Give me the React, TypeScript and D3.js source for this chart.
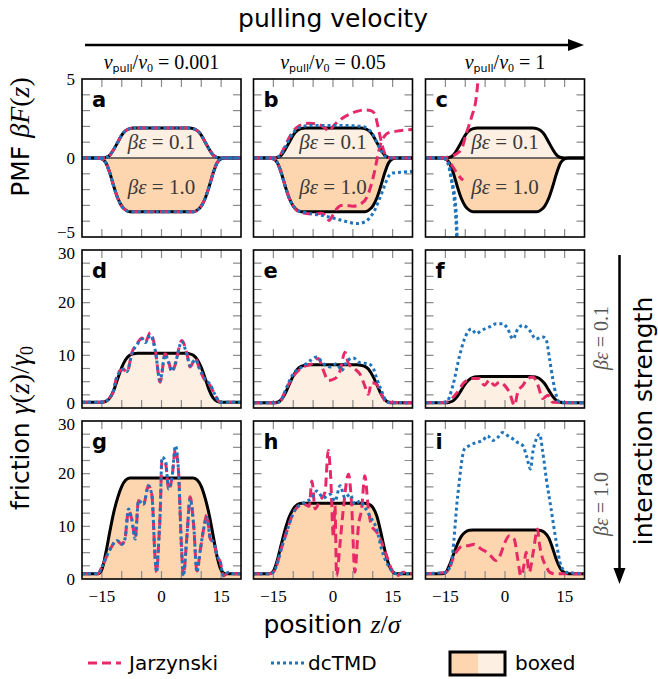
import React from "react";
import * as d3 from "d3";

type Pt = [number, number];

// ---- reference ("boxed") curves ----
const pmfBoxed01: Pt[] = [[-20,0],[-15,0],[-14,0.03],[-13,0.18],[-12,0.55],[-11,1.0],[-10,1.45],[-9,1.73],[-8,1.86],[-7,1.9],[7,1.9],[8,1.86],[9,1.73],[10,1.45],[11,1.0],[12,0.55],[13,0.18],[14,0.03],[15,0],[20,0]];
const pmfBoxed10: Pt[] = [[-20,0],[-16,0],[-15,-0.05],[-14,-0.3],[-13,-0.95],[-12,-1.8],[-11,-2.55],[-10,-3.05],[-9,-3.3],[-8,-3.4],[8,-3.4],[9,-3.3],[10,-3.05],[11,-2.55],[12,-1.8],[13,-0.95],[14,-0.3],[15,-0.05],[16,0],[20,0]];

const fricBoxedD: Pt[] = [[-20,1.1],[-15,1.1],[-14,1.25],[-13,1.9],[-12,3.4],[-11,5.6],[-10,7.7],[-9,9.2],[-8,10.0],[-7,10.3],[-6,10.4],[6,10.4],[7,10.3],[8,10.0],[9,9.2],[10,7.7],[11,5.6],[12,3.4],[13,1.9],[14,1.25],[15,1.1],[20,1.1]];
const fricBoxedE: Pt[] = [[-20,1.0],[-15,1.0],[-14,1.1],[-13,1.6],[-12,2.8],[-11,4.5],[-10,6.1],[-9,7.3],[-8,7.9],[-7,8.1],[-6,8.2],[6,8.2],[7,8.1],[8,7.9],[9,7.3],[10,6.1],[11,4.5],[12,2.8],[13,1.6],[14,1.1],[15,1.0],[20,1.0]];
const fricBoxedF: Pt[] = [[-20,1.0],[-15,1.0],[-14,1.1],[-13,1.4],[-12,2.2],[-11,3.4],[-10,4.6],[-9,5.4],[-8,5.8],[-7,5.95],[-6,6.0],[6,6.0],[7,5.95],[8,5.8],[9,5.4],[10,4.6],[11,3.4],[12,2.2],[13,1.4],[14,1.1],[15,1.0],[20,1.0]];
const fricBoxedG: Pt[] = [[-20,1.0],[-16,1.0],[-15,1.8],[-14,5.0],[-13,9.0],[-12,12.7],[-11,15.5],[-10,17.6],[-9,18.8],[-8,19.2],[8,19.2],[9,18.8],[10,17.6],[11,15.3],[12,12.2],[13,8.2],[14,4.2],[15,1.7],[16,1.0],[20,1.0]];
const fricBoxedH: Pt[] = [[-20,1.0],[-16,1.0],[-15,1.5],[-14,3.6],[-13,6.6],[-12,9.5],[-11,11.8],[-10,13.3],[-9,14.1],[-8,14.4],[8,14.4],[9,14.2],[10,13.6],[11,12.0],[12,9.0],[13,5.6],[14,2.8],[15,1.4],[16,1.0],[20,1.0]];
const fricBoxedI: Pt[] = [[-20,1.0],[-16,1.0],[-15,1.2],[-14,2.6],[-13,4.6],[-12,6.6],[-11,8.1],[-10,8.9],[-9,9.25],[-8,9.3],[8,9.3],[9,9.2],[10,8.8],[11,7.8],[12,5.8],[13,3.5],[14,1.9],[15,1.2],[16,1.0],[20,1.0]];

// ---- PMF estimates ----
const bJarz01: Pt[] = [[-20,0],[-15,0],[-14,0.05],[-13,0.3],[-12,0.8],[-11,1.3],[-10,1.7],[-9,1.95],[-8,2.1],[-6,2.2],[-4,2.15],[-2,1.9],[-1,1.7],[0,2.0],[2,2.45],[4,2.75],[6,2.95],[8,3.05],[9.5,3.0],[10.5,2.8],[11.3,2.0],[12,1.2],[12.7,0.5],[13.5,0.05],[15,0],[20,0]];
const bJarz10: Pt[] = [[-20,0],[-16,0],[-15,-0.05],[-14,-0.3],[-13,-0.95],[-12,-1.8],[-11,-2.55],[-10,-3.05],[-9,-3.35],[-7,-3.5],[-5,-3.55],[-3,-3.5],[-2,-3.6],[-1,-3.95],[0,-3.6],[1,-3.2],[2,-3.0],[3,-3.0],[5,-3.05],[7,-2.9],[8.5,-2.5],[9.5,-1.8],[10.5,-0.8],[11.3,0.2],[12,0.9],[13,1.4],[14,1.6],[16,1.7],[20,1.8]];
const bDctmd01: Pt[] = [[-20,0],[-15,0],[-14,0.05],[-13,0.25],[-12,0.7],[-11,1.2],[-10,1.6],[-9,1.85],[-8,1.98],[-6,2.05],[0,2.05],[4,2.05],[7,2.0],[8,1.95],[9,1.8],[10,1.5],[11,1.0],[12,0.5],[13,0.15],[14,0.02],[15,0],[20,0]];
const bDctmd10: Pt[] = [[-20,0],[-16,0],[-15,-0.05],[-14,-0.3],[-13,-0.95],[-12,-1.8],[-11,-2.55],[-10,-3.05],[-9,-3.3],[-7,-3.45],[-5,-3.55],[-3,-3.63],[0,-3.8],[3,-4.0],[6,-4.15],[8,-4.05],[9.5,-3.7],[10.6,-3.25],[11.5,-2.7],[12.3,-2.2],[13.2,-1.6],[14,-1.15],[15,-0.95],[17,-0.9],[20,-0.85]];

const cJarz01: Pt[] = [[-20,0],[-15,0],[-14.5,0.05],[-13,0.15],[-12,0.3],[-11,0.53],[-9.7,1.58],[-8.4,2.6],[-7.2,3.9],[-6.8,4.95],[-6.5,6.2]];
const cJarz10: Pt[] = [[-20,0],[-16,0],[-15,-0.05],[-14,-0.25],[-13,-0.6],[-12,-1.0],[-11,-1.3],[-10.5,-1.4]];
const cDctmd01: Pt[] = [[-20,0],[-16,0],[-15,-0.05],[-14.5,-0.15],[-14,-0.5],[-13.5,-1.2],[-13,-1.9],[-12.6,-2.5],[-12.3,-3.4],[-12.1,-4.5],[-12,-5.5],[-11.9,-7]];
const cDctmd10: Pt[] = [[-20,0],[-16,0],[-15,-0.08],[-14.5,-0.25],[-14,-0.7],[-13.5,-1.4],[-13,-2.1],[-12.7,-2.8],[-12.4,-3.7],[-12.2,-4.7],[-12.1,-5.5],[-12,-7]];

// ---- friction estimates ----
const dJarz: Pt[] = [[-20,1.1],[-15,1.1],[-14,1.3],[-13,2.0],[-12,3.4],[-11.6,4.9],[-10.4,7.1],[-9.5,7.3],[-8.7,6.8],[-7.4,10.6],[-6,12.4],[-4.9,13.3],[-4.1,12.5],[-2.8,14.3],[-1.6,11.3],[-0.35,4.9],[0.9,10.3],[1.8,8.8],[2.6,6.8],[3.4,8.1],[5.1,12.8],[6.4,10.3],[7.2,7.8],[8.5,9.4],[9.7,7.1],[11,5.2],[12.2,4.3],[13.5,2.4],[14.8,1.1],[20,1.1]];
const dDctmd: Pt[] = [[-20,1.1],[-15,1.1],[-14,1.3],[-13,2.0],[-12,3.4],[-11.6,4.9],[-10.4,7.0],[-9.5,7.4],[-8.7,6.9],[-7.4,10.4],[-6,12.2],[-4.9,13.1],[-4.1,12.4],[-2.8,13.8],[-1.6,11.0],[-0.35,5.2],[0.9,10.1],[1.8,8.6],[2.6,7.0],[3.4,8.3],[5.1,12.6],[6.4,10.1],[7.2,8.0],[8.5,9.2],[9.7,7.3],[11,5.4],[12.2,4.5],[13.5,2.5],[14.8,1.1],[20,1.1]];

const eJarz: Pt[] = [[-20,1.0],[-14,1.0],[-13,1.5],[-12.5,2.4],[-9.5,6.5],[-7.4,7.8],[-5.3,8.4],[-3.7,9.4],[-2.4,7.1],[-1.2,5.2],[0.5,5.6],[1.8,7.1],[3.0,10.6],[3.9,8.4],[5.5,7.4],[6.8,6.4],[8.0,4.2],[8.9,2.6],[9.7,4.8],[11.0,4.5],[12.2,2.6],[13.5,1.1],[20,1.0]];
const eDctmd: Pt[] = [[-20,1.0],[-14,1.0],[-13,1.5],[-12.5,2.4],[-9.9,6.6],[-7.8,7.8],[-5.7,9.0],[-4.1,9.7],[-2.4,8.4],[-0.7,7.8],[0.9,8.4],[2.2,7.1],[3.4,8.7],[5.1,9.5],[6.8,8.6],[8.9,8.4],[10.2,7.4],[11.0,5.6],[12.2,3.3],[13.5,1.2],[14.5,1.0],[20,1.0]];

const fJarz: Pt[] = [[-20,1.0],[-14.8,1.1],[-12.3,2.7],[-10.2,4.9],[-8.1,5.6],[-6.4,5.6],[-5.2,4.3],[-3.9,5.3],[-2.7,4.3],[-1.4,4.9],[0,4.2],[1.1,3.0],[2.4,0.5],[3.2,3.0],[4.5,4.3],[5.7,5.6],[7.0,5.9],[8.3,4.3],[9.5,1.8],[10.8,2.4],[12.0,1.1],[20,1.0]];
const fDctmd: Pt[] = [[-20,1.0],[-14.8,1.1],[-13.1,4.3],[-11.4,10.0],[-10.2,13.1],[-8.5,15.0],[-7.2,14.1],[-6.0,14.7],[-3.9,15.4],[-2.2,16.0],[-0.5,16.0],[0.7,15.0],[2.0,13.1],[3.2,15.0],[4.5,15.7],[6.2,14.7],[7.8,13.1],[9.5,13.5],[10.3,13.1],[11.2,9.4],[12.0,5.6],[12.9,2.4],[13.7,1.1],[20,1.0]];

const gJarz: Pt[] = [[-20,1.0],[-16,1.0],[-15,2.3],[-12.9,5.7],[-11.2,7.3],[-10.0,6.6],[-9.2,7.6],[-8.3,13.0],[-7.5,11.4],[-6.6,7.8],[-5.8,14.9],[-4.5,14.2],[-3.3,17.7],[-2.4,15.8],[-1.6,3.8],[-1.2,1.3],[-0.8,5.7],[-0.3,13.3],[0.1,22.5],[1.0,22.0],[1.8,17.1],[2.6,19.0],[3.5,24.5],[4.3,20.2],[4.9,8.2],[5.5,0.8],[6.4,8.2],[7.2,15.6],[8.1,10.1],[8.9,1.5],[9.8,5.7],[10.6,9.5],[11.4,12.2],[12.3,7.6],[13.1,7.0],[14.0,4.4],[14.8,3.2],[15.6,0.6],[16.9,1.3],[18.1,1.0],[20,1.0]];
const gDctmd: Pt[] = [[-20,1.0],[-16,1.0],[-15,2.3],[-12.9,5.7],[-11.2,7.3],[-10.0,6.6],[-9.2,7.6],[-8.3,13.3],[-7.5,11.4],[-6.6,7.6],[-5.8,14.9],[-4.5,14.2],[-3.3,17.7],[-2.4,15.8],[-1.6,3.8],[-1.2,1.3],[-0.8,5.7],[-0.3,13.3],[0.1,23.1],[1.0,22.5],[1.8,17.1],[2.6,19.0],[3.5,25.3],[4.3,20.2],[4.9,8.2],[5.5,0.6],[6.4,8.2],[7.2,15.2],[8.1,10.1],[8.9,1.3],[9.8,5.7],[10.6,9.5],[11.4,11.7],[12.3,7.6],[13.1,7.0],[14.0,4.4],[14.8,3.2],[15.6,0.6],[16.9,1.3],[18.1,1.0],[20,1.0]];

const hJarz: Pt[] = [[-20,1.0],[-16,1.0],[-15,1.3],[-12.5,7.0],[-9.4,13.3],[-7.3,14.2],[-6.0,13.8],[-5.3,18.6],[-4.5,13.3],[-3.3,14.9],[-2.0,16.5],[-1.2,24.4],[-0.6,19.6],[0.1,8.0],[0.5,13.9],[0.9,0.6],[1.8,7.0],[2.6,13.3],[3.9,19.9],[4.7,13.9],[5.5,1.3],[6.4,10.1],[7.2,13.3],[8.0,19.6],[8.9,13.3],[9.7,10.1],[11.0,8.9],[12.2,7.0],[13.5,4.4],[14.7,1.9],[16.0,0.6],[17.7,1.3],[20,1.0]];
const hDctmd: Pt[] = [[-20,1.0],[-16,1.0],[-15,1.3],[-12.5,7.0],[-9.4,13.3],[-7.3,14.5],[-5.3,15.4],[-4.1,16.7],[-2.4,15.4],[-0.7,16.1],[0.5,14.8],[1.8,17.7],[3.0,15.4],[4.3,16.1],[5.5,14.2],[6.8,14.8],[8.0,13.6],[9.7,11.4],[11.0,9.5],[12.2,5.7],[13.9,2.5],[15.2,1.3],[16,1.0],[20,1.0]];

const iJarz: Pt[] = [[-20,1.0],[-14.8,1.3],[-12.3,5.1],[-10.6,6.3],[-9.4,6.3],[-7.7,6.6],[-6.0,5.7],[-4.8,5.2],[-3.6,4.4],[-2.3,3.5],[-1.1,4.7],[-0.2,6.6],[1.1,8.2],[2.3,7.6],[3.2,3.8],[4.0,0.6],[4.9,3.2],[5.3,5.1],[6.1,1.3],[7.1,5.1],[8.2,9.5],[8.6,7.0],[9.5,3.8],[10.3,2.5],[11.2,1.3],[12.5,1.0],[20,1.0]];
const iDctmd: Pt[] = [[-20,1.0],[-14.8,1.3],[-13.5,3.2],[-11.9,15.8],[-10.2,24.7],[-9.0,25.3],[-7.3,25.9],[-5.6,26.3],[-4.4,27.2],[-3.1,26.3],[-1.8,26.9],[-0.6,27.8],[0.7,27.2],[2.0,26.6],[3.2,25.9],[4.5,25.3],[5.4,23.4],[6.4,20.9],[7.0,24.1],[7.9,26.6],[8.7,27.5],[9.5,24.1],[10.4,19.0],[11.6,13.3],[12.9,7.0],[14.1,2.5],[15.4,1.3],[20,1.0]];

// ---- text / ticks ----
const velocities = ["0.001", "0.05", "1"];
const strengths = ["0.1", "1.0"];
const xTicks = [-15, -10, -5, 0, 5, 10, 15];
const xTickLabels = [-15, 0, 15];
const pmfTicks = [-4, -3, -2, -1, 0, 1, 2, 3, 4];
const pmfTickLabels = [-5, 0, 5];
const fricTicks = [2.5, 5, 7.5, 10, 12.5, 15, 17.5, 20, 22.5, 25, 27.5];
const fricTickLabels = [0, 10, 20, 30];
const letters = ["a", "b", "c", "d", "e", "f", "g", "h", "i"];

const RED = "#e62a68";
const BLUE = "#1f74bb";
const FILL_LIGHT = "#fdefe2";
const FILL_DARK = "#fdd6b0";
const TICK = "#8a8a8a";
const SERIF = "'Liberation Serif', serif";
const SANS = "'DejaVu Sans', sans-serif";

const W = 159;
const H = 158;
const colX = [82, 253.5, 425.5];
const rowY = [79, 250, 421];

const fmt = (v: number) => (v < 0 ? "\u2212" + Math.abs(v) : String(v));

type PanelProps = {
  idx: number;
  kind: "pmf" | "fric";
  fills: { data: Pt[]; color: string }[];
  boxed: Pt[][];
  jarz: Pt[][];
  dctmd: Pt[][];
};

function Panel({ idx, kind, fills, boxed, jarz, dctmd }: PanelProps) {
  const col = idx % 3;
  const row = Math.floor(idx / 3);
  const px = colX[col];
  const py = rowY[row];
  const x = d3.scaleLinear().domain([-20, 20]).range([0, W]);
  const y = kind === "pmf"
    ? d3.scaleLinear().domain([-5, 5]).range([H, 0])
    : d3.scaleLinear().domain([0, 30]).range([H, 0]);
  const line = d3.line<Pt>().x((d) => x(d[0])).y((d) => y(d[1])).curve(d3.curveMonotoneX);
  const area = d3.area<Pt>().x((d) => x(d[0])).y0(y(0)).y1((d) => y(d[1])).curve(d3.curveMonotoneX);
  const yTicks = kind === "pmf" ? pmfTicks : fricTicks;
  const yLabels = kind === "pmf" ? pmfTickLabels : fricTickLabels;
  const [yMin, yMax] = y.domain();
  const clipId = `clip-${idx}`;
  const tl = 8;

  // keep stacked labels of neighbouring panels apart
  const labelY = (t: number) => {
    if (t === yMin && row < 2) return y(t) + 1;
    if (t === yMax && row > 0) return y(t) + 9;
    return y(t) + 5.5;
  };

  return (
    <g transform={`translate(${px},${py})`}>
      <defs>
        <clipPath id={clipId}>
          <rect x={0} y={0} width={W} height={H} />
        </clipPath>
      </defs>
      <g clipPath={`url(#${clipId})`}>
        {fills.map((f, i) => (
          <path key={i} d={area(f.data) || ""} fill={f.color} />
        ))}
        {kind === "pmf" && (
          <line x1={0} x2={W} y1={y(0)} y2={y(0)} stroke="#444" strokeWidth={1.3} />
        )}
        {kind === "pmf" &&
          strengths.map((s, i) => (
            <text key={s} x={W / 2} y={i === 0 ? 70 : 115} textAnchor="middle"
              fontFamily={SERIF} fontSize={21} fill="#3a3a3a">
              <tspan fontStyle="italic">βε</tspan> = {s}
            </text>
          ))}
        {xTicks.map((t) => (
          <g key={"x" + t}>
            <line x1={x(t)} x2={x(t)} y1={H} y2={H - tl} stroke={TICK} strokeWidth={1.2} />
            <line x1={x(t)} x2={x(t)} y1={0} y2={tl} stroke={TICK} strokeWidth={1.2} />
          </g>
        ))}
        {yTicks.map((t) => (
          <g key={"y" + t}>
            <line x1={0} x2={tl} y1={y(t)} y2={y(t)} stroke={TICK} strokeWidth={1.2} />
            <line x1={W} x2={W - tl} y1={y(t)} y2={y(t)} stroke={TICK} strokeWidth={1.2} />
          </g>
        ))}
        {boxed.map((b, i) => (
          <path key={i} d={line(b) || ""} fill="none" stroke="#000" strokeWidth={3} strokeLinejoin="round" />
        ))}
        {jarz.map((b, i) => (
          <path key={i} d={line(b) || ""} fill="none" stroke={RED} strokeWidth={3} strokeDasharray="9 5" />
        ))}
        {dctmd.map((b, i) => (
          <path key={i} d={line(b) || ""} fill="none" stroke={BLUE} strokeWidth={3} strokeDasharray="3 3" />
        ))}
      </g>
      <rect x={0} y={0} width={W} height={H} fill="none" stroke="#000" strokeWidth={1.6} />
      <text x={10} y={28} fontFamily={SANS} fontWeight="bold" fontSize={21}>{letters[idx]}</text>
      {col === 0 &&
        yLabels.map((t) => (
          <text key={t} x={-7} y={labelY(t)} textAnchor="end" fontFamily={SERIF} fontSize={17}>{fmt(t)}</text>
        ))}
      {row === 2 &&
        xTickLabels.map((t) => (
          <text key={t} x={x(t)} y={H + 23} textAnchor="middle" fontFamily={SERIF} fontSize={17}>{fmt(t)}</text>
        ))}
    </g>
  );
}

export default function App() {
  const pmfFills = [
    { data: pmfBoxed01, color: FILL_LIGHT },
    { data: pmfBoxed10, color: FILL_DARK },
  ];
  const panels: PanelProps[] = [
    { idx: 0, kind: "pmf", fills: pmfFills, boxed: [pmfBoxed01, pmfBoxed10], jarz: [pmfBoxed01, pmfBoxed10], dctmd: [pmfBoxed01, pmfBoxed10] },
    { idx: 1, kind: "pmf", fills: pmfFills, boxed: [pmfBoxed01, pmfBoxed10], jarz: [bJarz01, bJarz10], dctmd: [bDctmd01, bDctmd10] },
    { idx: 2, kind: "pmf", fills: pmfFills, boxed: [pmfBoxed01, pmfBoxed10], jarz: [cJarz01, cJarz10], dctmd: [cDctmd01, cDctmd10] },
    { idx: 3, kind: "fric", fills: [{ data: fricBoxedD, color: FILL_LIGHT }], boxed: [fricBoxedD], jarz: [dJarz], dctmd: [dDctmd] },
    { idx: 4, kind: "fric", fills: [{ data: fricBoxedE, color: FILL_LIGHT }], boxed: [fricBoxedE], jarz: [eJarz], dctmd: [eDctmd] },
    { idx: 5, kind: "fric", fills: [{ data: fricBoxedF, color: FILL_LIGHT }], boxed: [fricBoxedF], jarz: [fJarz], dctmd: [fDctmd] },
    { idx: 6, kind: "fric", fills: [{ data: fricBoxedG, color: FILL_DARK }], boxed: [fricBoxedG], jarz: [gJarz], dctmd: [gDctmd] },
    { idx: 7, kind: "fric", fills: [{ data: fricBoxedH, color: FILL_DARK }], boxed: [fricBoxedH], jarz: [hJarz], dctmd: [hDctmd] },
    { idx: 8, kind: "fric", fills: [{ data: fricBoxedI, color: FILL_DARK }], boxed: [fricBoxedI], jarz: [iJarz], dctmd: [iDctmd] },
  ];

  return (
    <svg width={658} height={679} style={{ position: "absolute", left: 0, top: 0, background: "#fff" }}>
      {/* header */}
      <text x={333} y={27} textAnchor="middle" fontFamily={SANS} fontSize={25}>pulling velocity</text>
      <line x1={85} x2={570} y1={45} y2={45} stroke="#000" strokeWidth={2.5} />
      <path d="M568,39 L584,45 L568,51 Z" fill="#000" />
      {velocities.map((v, i) => (
        <text key={v} x={colX[i] + W / 2} y={69} textAnchor="middle" fontFamily={SERIF} fontSize={20}>
          <tspan fontStyle="italic">v</tspan>
          <tspan fontFamily={SANS} fontSize={11} dy={3}>pull</tspan>
          <tspan dy={-3}>/</tspan>
          <tspan fontStyle="italic">v</tspan>
          <tspan fontSize={12} dy={3}>0</tspan>
          <tspan dy={-3}> = {v}</tspan>
        </text>
      ))}

      {panels.map((p) => (
        <Panel key={p.idx} {...p} />
      ))}

      {/* y labels */}
      <text transform="translate(29,137) rotate(-90)" textAnchor="middle" fontFamily={SANS} fontSize={25}>
        PMF <tspan fontFamily={SERIF} fontSize={28} fontStyle="italic">βF</tspan><tspan fontFamily={SERIF} fontSize={28}>(</tspan><tspan fontFamily={SERIF} fontSize={28} fontStyle="italic">z</tspan><tspan fontFamily={SERIF} fontSize={28}>)</tspan>
      </text>
      <text transform="translate(29,428) rotate(-90)" textAnchor="middle" fontFamily={SANS} fontSize={25}>
        friction <tspan fontFamily={SERIF} fontSize={28} fontStyle="italic">γ</tspan><tspan fontFamily={SERIF} fontSize={28}>(</tspan><tspan fontFamily={SERIF} fontSize={28} fontStyle="italic">z</tspan><tspan fontFamily={SERIF} fontSize={28}>)/</tspan><tspan fontFamily={SERIF} fontSize={28} fontStyle="italic">γ</tspan><tspan fontFamily={SERIF} fontSize={18} dy={4}>0</tspan>
      </text>

      {/* x label */}
      <text x={332} y={633} textAnchor="middle" fontFamily={SANS} fontSize={25}>
        position <tspan fontFamily={SERIF} fontSize={26} fontStyle="italic">z</tspan><tspan fontFamily={SERIF} fontSize={26}>/</tspan><tspan fontFamily={SERIF} fontSize={26} fontStyle="italic">σ</tspan>
      </text>

      {/* right side */}
      {strengths.map((s, i) => (
        <text key={s} transform={`translate(608,${i === 0 ? 338 : 504}) rotate(-90)`} textAnchor="middle" fontFamily={SERIF} fontSize={20} fill="#555">
          <tspan fontStyle="italic">βε</tspan> = {s}
        </text>
      ))}
      <line x1={619.5} x2={619.5} y1={255} y2={570} stroke="#000" strokeWidth={2.5} />
      <path d="M613.5,568 L619.5,584 L625.5,568 Z" fill="#000" />
      <text transform="translate(652,421) rotate(-90)" textAnchor="middle" fontFamily={SANS} fontSize={25}>interaction strength</text>

      {/* legend */}
      <line x1={88} x2={121} y1={663} y2={663} stroke={RED} strokeWidth={3} strokeDasharray="9 5" />
      <text x={129} y={670} fontFamily={SANS} fontSize={20}>Jarzynski</text>
      <line x1={271} x2={306} y1={663} y2={663} stroke={BLUE} strokeWidth={3} strokeDasharray="3 3" />
      <text x={308} y={670} fontFamily={SANS} fontSize={20}>dcTMD</text>
      <rect x={450} y={652} width={28} height={23} fill={FILL_DARK} />
      <rect x={478} y={652} width={27} height={23} fill={FILL_LIGHT} />
      <rect x={450} y={652} width={55} height={23} fill="none" stroke="#000" strokeWidth={3} />
      <text x={515} y={670} fontFamily={SANS} fontSize={20}>boxed</text>
    </svg>
  );
}
